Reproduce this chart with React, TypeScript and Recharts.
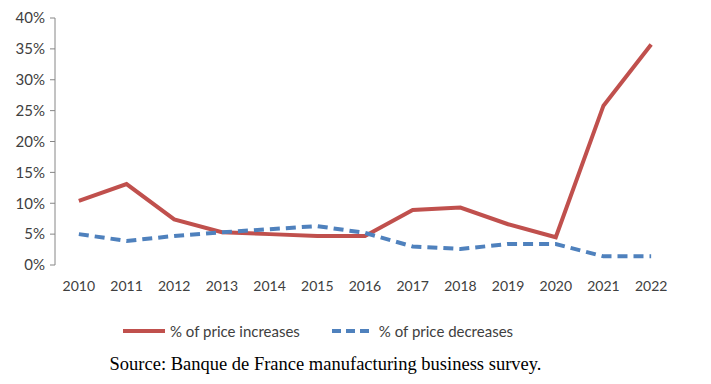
import React from 'react';
import { LineChart, Line, XAxis, YAxis } from 'recharts';

const years = [2010, 2011, 2012, 2013, 2014, 2015, 2016, 2017, 2018, 2019, 2020, 2021, 2022];
const increases = [10.4, 13.1, 7.4, 5.3, 5.0, 4.7, 4.7, 8.9, 9.3, 6.6, 4.5, 25.8, 35.7];
const decreases = [5.0, 3.9, 4.7, 5.3, 5.8, 6.3, 5.2, 3.0, 2.6, 3.4, 3.4, 1.4, 1.4];
const yTicks = [0, 5, 10, 15, 20, 25, 30, 35, 40];
const boundaryTicks = [2009.5, 2010.5, 2011.5, 2012.5, 2013.5, 2014.5, 2015.5, 2016.5, 2017.5, 2018.5, 2019.5, 2020.5, 2021.5, 2022.5];
const seriesNames = ['% of price increases', '% of price decreases'];
const seriesColors = ['#C0504D', '#4F81BD'];
const sourceText = 'Source: Banque de France manufacturing business survey.';

const data = years.map((y, i) => ({ year: y, inc: increases[i], dec: decreases[i] }));

const FONT = 'Lato, "Open Sans", sans-serif';
const AXIS = '#868686';
const TEXT = '#404040';

const EmptyTick = () => <g />;

export default function App() {
  return (
    <div style={{ position: 'absolute', left: 0, top: 0, width: 711, height: 384, background: '#fff' }}>
      <LineChart width={711} height={384} data={data} margin={{ top: 18, right: 36, left: 0, bottom: 89 }}>
        <XAxis xAxisId="b" dataKey="year" type="number" domain={[2009.5, 2022.5]} ticks={boundaryTicks}
          height={0} stroke={AXIS} tick={EmptyTick} tickSize={5} allowDataOverflow />
        <XAxis xAxisId="a" dataKey="year" type="number" domain={[2009.5, 2022.5]} ticks={years}
          height={30} axisLine={false} tickLine={false} interval={0}
          tick={{ fill: TEXT, fontSize: 14, fontFamily: FONT }} tickMargin={10} allowDataOverflow />
        <YAxis domain={[0, 40]} ticks={yTicks} width={55} stroke={AXIS} tickSize={5} tickMargin={5}
          tickFormatter={(v: number) => `${v}%`} interval={0}
          tick={{ fill: TEXT, fontSize: 15, fontFamily: FONT }} />
        <Line xAxisId="a" dataKey="inc" name={seriesNames[0]} stroke={seriesColors[0]} strokeWidth={4}
          dot={false} isAnimationActive={false} />
        <Line xAxisId="a" dataKey="dec" name={seriesNames[1]} stroke={seriesColors[1]} strokeWidth={4}
          strokeDasharray="10 6" dot={false} isAnimationActive={false} />
      </LineChart>
      <div style={{ position: 'absolute', top: 322, left: 123, display: 'flex', alignItems: 'center', fontFamily: FONT, fontSize: 15, color: TEXT }}>
        {seriesNames.map((n, i) => (
          <div key={n} style={{ display: 'flex', alignItems: 'center', marginRight: i === 0 ? 32 : 0 }}>
            <svg width={42} height={10} style={{ marginRight: 5 }}>
              <line x1={0} y1={5} x2={42} y2={5} stroke={seriesColors[i]} strokeWidth={4}
                strokeDasharray={i === 1 ? '9 5' : undefined} />
            </svg>
            <span>{n}</span>
          </div>
        ))}
      </div>
      <div style={{ position: 'absolute', top: 354, left: 0, width: 651, textAlign: 'center', fontFamily: '"Liberation Serif", serif', fontSize: 18.5, color: '#000' }}>
        {sourceText}
      </div>
    </div>
  );
}
